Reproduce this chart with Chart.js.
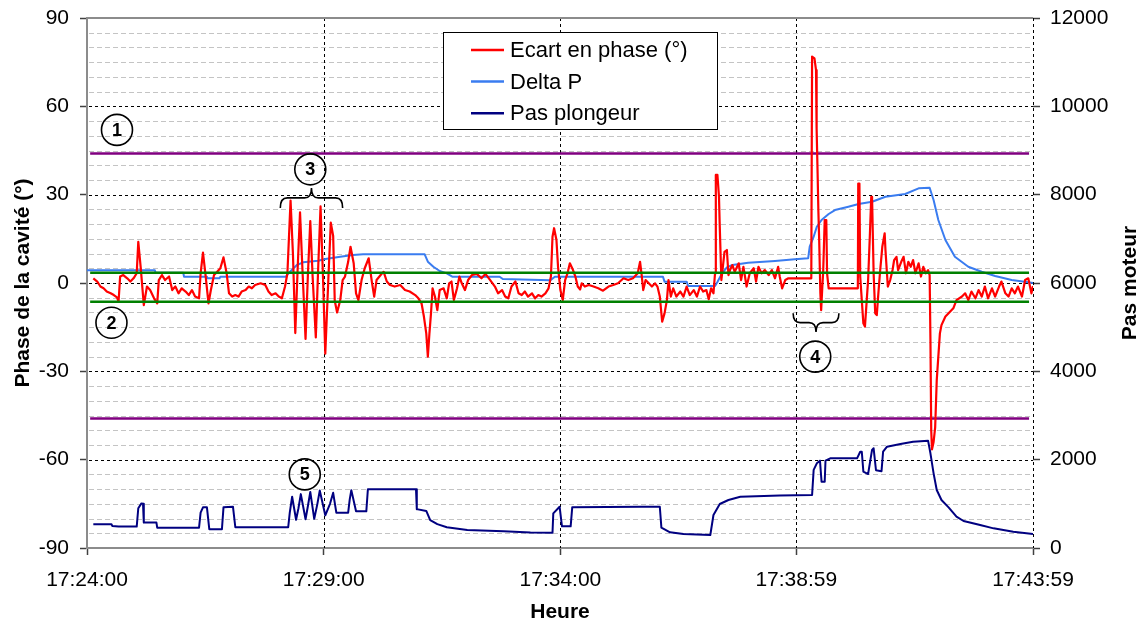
<!DOCTYPE html>
<html>
<head>
<meta charset="utf-8">
<title>Phase de la cavité</title>
<script src="https://cdn.jsdelivr.net/npm/chart.js@4/dist/chart.umd.min.js"></script>
<style>
  html, body { margin: 0; padding: 0; background: #fff; }
  canvas { display: block; }
</style>
</head>
<body>
<canvas id="phase-chart" width="1143" height="623"></canvas>
<script>
// times are seconds after 17:24:00
var tickSeconds = [0, 300, 600, 899, 1199];

// Ecart en phase (°) - left axis
var ecartPhase = [
  [8,1.6],[13,0.5],[17,-1.2],[21,-1.8],[25,-2.9],[30,-3.5],[34,-4.1],[38,-4.9],[40,-6.3],[42,2.2],
  [46,2.7],[51,1.6],[55,0.5],[59,1.6],[63,3.3],[65,14],[68,5.5],[72,-7.5],[76,-1.2],[80,-2.4],
  [85,-5.2],[89,-6.9],[91,1],[95,2.7],[99,1],[104,2.2],[108,-2.4],[112,-1.2],[116,-3.5],[120,-1.8],
  [125,-2.9],[129,-4.1],[133,-2.4],[137,-4.6],[142,-5.2],[144,3.3],[147,10.3],[150,3.3],[154,-6.9],[157,-2.4],
  [161,2.7],[165,3.8],[169,5],[173,8.7],[177,3.3],[180,-3.5],[184,-4.6],[188,-4.1],[192,-4.6],[196,-2.9],
  [201,-2.4],[205,-1.2],[209,-1.8],[213,-0.7],[220,-0.1],[226,-0.7],[230,-2.9],[234,-4.1],[239,-3.5],[243,-4.6],
  [247,-5.2],[251,-1.2],[254,3.3],[258,28],[261,10],[264,-17],[267,5],[270,24],[273,5],[277,-19],
  [280,3],[283,21],[286,2],[290,-18.5],[293,5],[296,26],[299,3],[302,-24],[306,2],[309,20.5],
  [312,16],[314,-6],[317,-10],[321,-5.8],[324,1],[327,2.2],[331,7.2],[334,12.3],[338,6.7],[341,-3.5],
  [344,-5.8],[348,1],[352,5],[357,8.4],[361,0.5],[364,-4.6],[367,1],[374,3.3],[376,3.8],[380,0.5],
  [384,-0.7],[390,-1.2],[397,-0.7],[403,-2.4],[409,-2.9],[416,-4.1],[420,-5.2],[424,-6.9],[427,-11.4],[430,-17.1],
  [432,-25],[434,-17.1],[436,-10.3],[438,-1.8],[441,-4.6],[444,-9.2],[447,-2.4],[452,-1.8],[456,-5.2],[459,-0.1],
  [462,0.5],[465,-5.8],[469,-1.8],[472,2.2],[475,-0.1],[479,-2.4],[483,1],[488,2.7],[494,3.1],[500,1.6],
  [505,3.1],[511,1],[517,-1.2],[521,-3.5],[526,-2.4],[530,-4.6],[534,-5.2],[538,-1.2],[543,0.5],[547,-3.5],
  [551,-4.1],[555,-2.9],[559,-4.6],[564,-3.5],[568,-5.2],[572,-4.1],[576,-4.6],[581,-3.5],[585,-1.8],[588,2.2],
  [590,15.7],[592,18.6],[595,14.6],[597,5.5],[600,-2.4],[603,-5.8],[606,1],[609,3.3],[612,6.7],[616,4.4],
  [619,2.2],[622,-1.2],[625,-2.2],[627,-0.1],[631,-1.2],[636,-0.7],[642,-1.2],[648,-1.8],[654,-2.6],[661,-1.2],
  [667,-0.7],[673,-0.1],[680,1.6],[686,1],[692,1.6],[698,3.3],[701,7.2],[703,2.7],[705,-2.4],[708,1],
  [712,-0.1],[716,-1.2],[720,-0.1],[723,-1.2],[726,-4.6],[729,-13.1],[732,-10.3],[735,-5.8],[737,1],[740,-4.6],
  [743,-1.8],[747,-4.6],[752,-2.9],[756,-4.6],[760,-1.2],[764,-4.1],[769,-2.4],[773,-4.6],[777,-1.2],[781,-2.9],
  [785,-2.4],[788,-5.5],[791,-1.8],[794,-3.5],[796,3.3],[797,36.7],[799,36.7],[801,29.3],[802,19.1],[804,1],
  [805,3.3],[808,10.6],[811,11.2],[813,2.7],[815,4.4],[818,6.1],[821,3.8],[826,6.7],[829,1],[832,5.5],
  [836,-1.2],[840,3.3],[845,5],[848,0.5],[851,5.5],[855,3.3],[859,4.4],[864,2.7],[868,4.4],[872,1.6],
  [876,5.5],[878,2.2],[881,-1.8],[885,1],[889,1.6],[918,1.6],[919,76.9],[922,76.3],[924,72.3],[924.5,53],
  [925,52.5],[926,37.2],[927,24.2],[928,14.6],[929.5,-3.5],[930.5,-9.2],[932,-1.2],[933,3.3],[935,21.4],[937,21.4],
  [938,3.3],[940,-1.8],[977,-1.8],[977.5,33.8],[979,33.8],[980,2.2],[982,-5.8],[984,-13.7],[986,-14.8],[988,-6.9],
  [990,1],[992,14.6],[994,29.3],[995,29.3],[997,3.3],[999,-10.3],[1001,-10.9],[1003,-3.5],[1005,3.3],[1008,12.3],
  [1011,16.9],[1012,11.2],[1015,-1.2],[1018,1],[1021,4.4],[1023,7.8],[1026,8.9],[1028,4.4],[1032,7.2],[1035,8.9],
  [1038,3.3],[1041,7.2],[1044,5.5],[1047,7.8],[1050,3.3],[1054,6.7],[1057,2.2],[1060,5.5],[1063,3.3],[1066,4.4],
  [1068,2.7],[1069,-19],[1070,-50],[1071,-56.5],[1073,-54],[1075,-49],[1077,-33],[1079,-25],[1081,-17.1],[1083,-14.3],
  [1088,-11.4],[1092,-10.3],[1098,-8.6],[1102,-5.8],[1109,-4.6],[1113,-3.5],[1117,-5.8],[1121,-2.9],[1126,-5.2],[1130,-2.4],
  [1134,-4.6],[1138,-1.2],[1142,-5.2],[1147,-1.8],[1151,-4.6],[1156,-1.2],[1159,0.5],[1164,-3.5],[1168,-4.6],[1172,-1.8],
  [1176,-3.5],[1180,-1.2],[1185,-4.6],[1189,1],[1193,1.6],[1197,-3.5],[1199,-1]
];

// Delta P - right axis
var deltaP = [
  [0,6290],[86,6290],[87,6233],[122,6233],[123,6143],[152,6143],[153,6106],[168,6106],[169,6143],[252,6143],
  [257,6250],[266,6407],[274,6468],[293,6505],[302,6543],[321,6595],[337,6633],[350,6649],[428,6649],[432,6482],
  [439,6369],[447,6271],[456,6219],[463,6143],[523,6143],[527,6090],[587,6060],[593,6143],[730,6143],[732,6030],
  [760,6030],[762,5932],[796,5932],[799,6022],[805,6219],[811,6355],[818,6407],[838,6459],[872,6498],[897,6536],
  [914,6559],[916,6821],[921,7048],[925,7274],[931,7426],[940,7562],[948,7652],[965,7727],[978,7788],[995,7840],
  [1012,7953],[1037,8015],[1054,8144],[1068,8157],[1073,7879],[1079,7426],[1088,6973],[1100,6595],[1117,6369],[1134,6256],
  [1151,6158],[1172,6068],[1193,6015],[1199,6000]
];

// Pas plongeur - right axis
var pasPlongeur = [
  [8,540],[31,540],[32,500],[40,485],[63,485],[65,900],[69,1010],[71,1000],[72,575],[88,575],
  [89,460],[142,460],[144,800],[147,920],[152,920],[155,425],[171,425],[173,920],[185,935],[188,470],
  [255,470],[257,800],[260,1160],[265,640],[268,900],[271,1220],[277,650],[280,950],[283,1270],[288,660],
  [292,1000],[295,1300],[302,740],[308,1000],[312,1250],[316,800],[331,800],[333,1100],[335,1310],[341,830],
  [354,830],[356,1330],[417,1330],[418,880],[430,840],[435,630],[444,540],[456,470],[482,410],[528,380],
  [562,350],[590,347],[591,785],[599,935],[602,490],[613,490],[615,920],[703,935],[726,935],[728,460],
  [739,355],[756,317],[790,294],[794,747],[802,996],[813,1087],[828,1160],[878,1190],[919,1200],[921,1770],
  [925,1917],[929,1977],[931,1500],[935,1500],[936,1977],[942,2030],[976,2030],[980,2180],[982,2180],[984,1730],
  [990,1675],[995,2220],[997,2257],[1000,1760],[1007,1740],[1009,2180],[1014,2294],[1031,2355],[1047,2408],[1066,2430],
  [1069,2144],[1073,1691],[1077,1313],[1083,1087],[1092,921],[1102,709],[1111,611],[1132,521],[1149,445],[1174,370],
  [1199,317]
];

// limit lines (°)
var limites = [44, -46];
var bande = [3.5, -6.4];
var traitDebut = 4, traitFin = 1194;

// numbered markers: label, seconds, degrees
var reperes = [['1', 38, 52], ['2', 31, -13.5], ['3', 283, 38.6], ['4', 923, -25], ['5', 276, -65]];
// braces: start s, end s, phase at the ends, phase at the tip
var accolades = [[245, 324, 25.5, 32.3], [895, 953, -10.3, -16.6]];

function toPoints(arr) {
  return arr.map(function(p) { return { x: p[0], y: p[1] }; });
}

function horizontale(v) {
  return [{ x: traitDebut, y: v }, { x: traitFin, y: v }];
}

function formatHeure(s) {
  var total = 17 * 3600 + 24 * 60 + Math.round(s);
  var h = Math.floor(total / 3600), m = Math.floor(total / 60) % 60, sec = total % 60;
  function pad(n) { return (n < 10 ? '0' : '') + n; }
  return h + ':' + pad(m) + ':' + pad(sec);
}

Chart.defaults.font.family = '"Liberation Sans", Arial, sans-serif';
Chart.defaults.color = '#000';

var FONT = '"Liberation Sans", Arial, sans-serif';

// dashed grid (major every 30° / minor every 5°) and vertical time lines
var grille = {
  id: 'grille',
  beforeDatasetsDraw: function(chart) {
    var ctx = chart.ctx, a = chart.chartArea, y = chart.scales.y, x = chart.scales.x;
    ctx.save();
    ctx.lineWidth = 1;
    ctx.strokeStyle = '#c4c4c4';
    ctx.setLineDash([5, 3]);
    for (var v = -85; v < 90; v += 5) {
      if (v % 30 === 0) continue;
      var py = Math.round(y.getPixelForValue(v)) + 0.5;
      ctx.beginPath(); ctx.moveTo(a.left + 2, py); ctx.lineTo(a.right, py); ctx.stroke();
    }
    ctx.strokeStyle = '#000';
    ctx.setLineDash([3, 3]);
    for (v = -60; v <= 60; v += 30) {
      py = Math.round(y.getPixelForValue(v)) + 0.5;
      ctx.beginPath(); ctx.moveTo(a.left + 2, py); ctx.lineTo(a.right, py); ctx.stroke();
    }
    for (var i = 1; i < tickSeconds.length; i++) {
      var px = Math.round(x.getPixelForValue(tickSeconds[i])) + 0.5;
      ctx.beginPath(); ctx.moveTo(px, a.top); ctx.lineTo(px, a.bottom); ctx.stroke();
    }
    ctx.setLineDash([]);
    ctx.strokeStyle = '#8c8c8c';
    ctx.lineWidth = 2;
    ctx.beginPath(); ctx.moveTo(a.left, a.top); ctx.lineTo(a.right, a.top); ctx.stroke();
    ctx.restore();
  }
};

function accolade(ctx, x1, x2, yEnd, yTip) {
  var xm = (x1 + x2) / 2, yb = (yEnd + yTip) / 2, r = 7;
  ctx.beginPath();
  ctx.moveTo(x1, yEnd);
  ctx.quadraticCurveTo(x1, yb, x1 + r, yb);
  ctx.lineTo(xm - r, yb);
  ctx.quadraticCurveTo(xm, yb, xm, yTip);
  ctx.quadraticCurveTo(xm, yb, xm + r, yb);
  ctx.lineTo(x2 - r, yb);
  ctx.quadraticCurveTo(x2, yb, x2, yEnd);
  ctx.stroke();
}

// legend box, markers, braces and right axis title
var habillage = {
  id: 'habillage',
  afterDatasetsDraw: function(chart) {
    var ctx = chart.ctx, x = chart.scales.x, y = chart.scales.y;
    ctx.save();

    ctx.strokeStyle = '#000';
    ctx.lineWidth = 1.6;
    accolades.forEach(function(b) {
      accolade(ctx, x.getPixelForValue(b[0]), x.getPixelForValue(b[1]),
               y.getPixelForValue(b[2]), y.getPixelForValue(b[3]));
    });

    ctx.font = 'bold 18px ' + FONT;
    ctx.textAlign = 'center';
    ctx.textBaseline = 'middle';
    reperes.forEach(function(m) {
      var cx = x.getPixelForValue(m[1]), cy = y.getPixelForValue(m[2]);
      ctx.beginPath();
      ctx.arc(cx, cy, 15.5, 0, Math.PI * 2);
      ctx.stroke();
      ctx.fillStyle = '#000';
      ctx.fillText(m[0], cx, cy + 1);
    });

    // legend
    var lx = 443, ly = 32, lw = 274, lh = 97;
    ctx.fillStyle = '#fff';
    ctx.fillRect(lx, ly, lw, lh);
    ctx.lineWidth = 1;
    ctx.strokeStyle = '#000';
    ctx.strokeRect(lx + 0.5, ly + 0.5, lw, lh);
    var items = chart.data.datasets.filter(function(d) { return d.enLegende; });
    ctx.font = '22px ' + FONT;
    ctx.textAlign = 'left';
    items.forEach(function(d, i) {
      var yy = 50 + i * 31.6;
      ctx.strokeStyle = d.borderColor;
      ctx.lineWidth = 2.5;
      ctx.beginPath(); ctx.moveTo(471, yy); ctx.lineTo(504, yy); ctx.stroke();
      ctx.fillStyle = '#000';
      ctx.fillText(d.label, 510, yy + 1);
    });
    ctx.restore();
  },
  afterDraw: function(chart) {
    var ctx = chart.ctx, y2 = chart.scales.y2;
    ctx.save();
    ctx.font = 'bold 21px ' + FONT;
    ctx.textAlign = 'center';
    ctx.textBaseline = 'middle';
    ctx.translate(1130, (y2.top + y2.bottom) / 2);
    ctx.rotate(-Math.PI / 2);
    ctx.fillText('Pas moteur', 0, 0);
    ctx.restore();
  }
};

function ligne(label, data, color, width, axis, order, legende) {
  return {
    label: label, data: data, yAxisID: axis, order: order,
    borderColor: color, borderWidth: width, pointRadius: 0,
    tension: 0, fill: false, borderJoinStyle: 'round', enLegende: legende
  };
}

// keep the plot area fixed: no extra room for overhanging tick labels
function sansMarge(s) {
  s.paddingTop = 0; s.paddingBottom = 0; s.paddingLeft = 0; s.paddingRight = 0;
}

new Chart(document.getElementById('phase-chart'), {
  type: 'line',
  data: {
    datasets: [
      ligne('Ecart en phase (°)', toPoints(ecartPhase), '#ff0000', 2.2, 'y', 1, true),
      ligne('Delta P', toPoints(deltaP), '#3a7cf0', 2, 'y2', 3, true),
      ligne('Pas plongeur', toPoints(pasPlongeur), '#000080', 2, 'y2', 4, true),
      ligne('limite haute', horizontale(limites[0]), '#800080', 2.5, 'y', 2, false),
      ligne('limite basse', horizontale(limites[1]), '#800080', 2.5, 'y', 2, false),
      ligne('bande haute', horizontale(bande[0]), '#008000', 2.5, 'y', 0, false),
      ligne('bande basse', horizontale(bande[1]), '#008000', 2.5, 'y', 0, false)
    ]
  },
  options: {
    responsive: false,
    animation: false,
    devicePixelRatio: 1,
    layout: { padding: { top: 18, left: 0, right: 0, bottom: 0 } },
    plugins: { legend: { display: false }, tooltip: { enabled: false } },
    scales: {
      x: {
        type: 'linear', min: 0, max: 1199,
        afterBuildTicks: function(s) { s.ticks = tickSeconds.map(function(v) { return { value: v }; }); },
        ticks: { callback: function(v) { return formatHeure(v); }, autoSkip: false, maxRotation: 0, padding: 13, font: { size: 21 } },
        grid: { drawOnChartArea: false, tickLength: 7, tickColor: '#404040', tickWidth: 1.5 },
        border: { color: '#8c8c8c', width: 2 },
        title: { display: true, text: 'Heure', font: { size: 21, weight: 'bold' }, padding: { top: 0, bottom: -2 } },
        afterFit: function(s) { s.height = 75; sansMarge(s); }
      },
      y: {
        position: 'left', min: -90, max: 90,
        ticks: { stepSize: 30, padding: 11, font: { size: 21 } },
        grid: { drawOnChartArea: false, tickLength: 7, tickColor: '#404040', tickWidth: 1.5 },
        border: { color: '#8c8c8c', width: 2 },
        title: { display: true, text: 'Phase de la cavité (°)', font: { size: 21, weight: 'bold' }, padding: { top: 11, bottom: 0 } },
        afterFit: function(s) { s.width = 87; sansMarge(s); }
      },
      y2: {
        position: 'right', min: 0, max: 12000,
        ticks: { stepSize: 2000, padding: 10, font: { size: 21 }, callback: function(v) { return String(v); } },
        grid: { drawOnChartArea: false, tickLength: 7, tickColor: '#404040', tickWidth: 1.5 },
        border: { display: false },
        afterFit: function(s) { s.width = 110; sansMarge(s); }
      }
    }
  },
  plugins: [grille, habillage]
});
</script>
</body>
</html>
